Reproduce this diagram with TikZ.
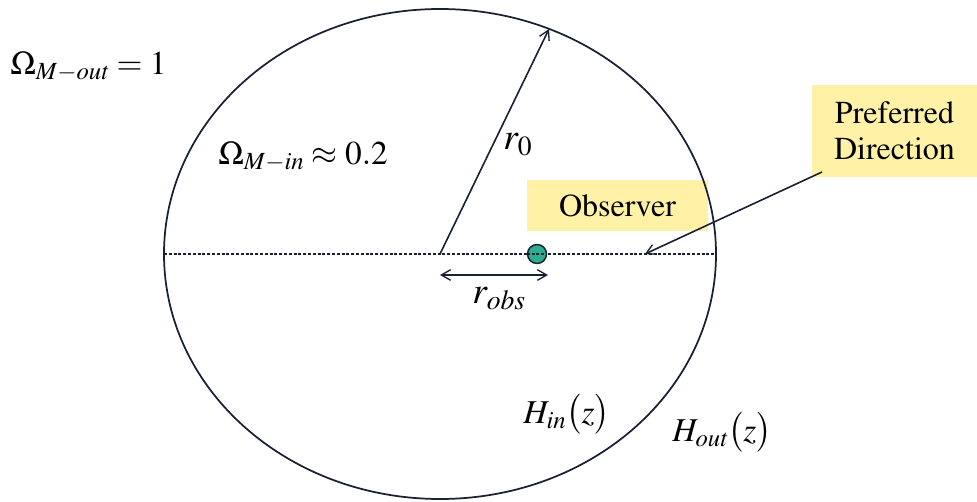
\documentclass[tikz,border=0pt]{standalone}
\usepackage{amsmath}
\usepackage{mathptmx}
\usetikzlibrary{arrows.meta}
\definecolor{ink}{HTML}{1A2033}
\definecolor{pale}{HTML}{FFF2A6}
\definecolor{teal}{HTML}{2AAE8E}
\tikzset{
  lbl/.style={inner sep=0pt, anchor=base west, font=\fontsize{25}{29}\selectfont},
  ybox/.style={fill=pale, inner sep=0pt, font=\usefont{OT1}{ptm}{m}{n}\fontsize{24}{29}\selectfont, align=center},
  arr/.style={draw=ink, line width=1.2pt, -{Straight Barb[length=7pt,width=8pt,line width=1pt]}},
}
\begin{document}
\begin{tikzpicture}[x=0.75pt,y=-0.75pt]
\useasboundingbox (0,0) rectangle (977,502);
% yellow boxes
\node[ybox, minimum width=181*0.75pt, minimum height=51*0.75pt] (obs) at (617.5,205.5) {Observer};
\node[ybox, minimum width=165*0.75pt, minimum height=92*0.75pt] (pref) at (894.5,131) {Preferred\\[-2pt]Direction};
% ellipse
\coordinate (c) at (440,254);
\draw[ink, line width=1.3pt] (c) ellipse [x radius=276, y radius=245];
% dashed diameter
\coordinate (dl) at (164,254);
\coordinate (dr) at (716,254);
\draw[ink, line width=1.1pt, dash pattern=on 2.2pt off 1.4pt] (dl) -- (dr);
% radius arrow
\coordinate (top) at (549,29);
\draw[arr] (c) -- (top);
% observer
\node[circle, draw=ink, line width=1.1pt, fill=teal, minimum size=19*0.75pt, inner sep=0pt] (dot) at (537,254) {};
\draw[ink, line width=1.1pt, dash pattern=on 2.2pt off 1.4pt] (dot.west) -- (dot.east);
% r_obs double arrow
\coordinate (ra) at (440,275);
\coordinate (rb) at (548,275);
\draw[draw=ink, line width=1.2pt, {Straight Barb[length=7pt,width=8pt,line width=1pt]}-{Straight Barb[length=7pt,width=8pt,line width=1pt]}] (ra) -- (rb);
% preferred direction arrow
\coordinate (pd) at (645,254);
\coordinate (ps) at (822,172);
\draw[arr] (ps) -- (pd);
% labels
\node[lbl] (om1) at (10,75) {$\Omega_{M{-}\mathit{out}}=1$};
\node[lbl] (om2) at (218,165) {$\Omega_{M{-}\mathit{in}}\approx 0.2$};
\node[lbl, font=\fontsize{28}{30}\selectfont] (r0) at (503,150) {$r_{0}$};
\node[lbl, font=\fontsize{28}{30}\selectfont] (robs) at (472,303) {$r_{\mathit{obs}}$};
\node[lbl] (hin) at (523,423) {$H_{\mathit{in}}\bigl(z\bigr)$};
\node[lbl] (hout) at (672,441) {$H_{\mathit{out}}\bigl(z\bigr)$};
\end{tikzpicture}
\end{document}
